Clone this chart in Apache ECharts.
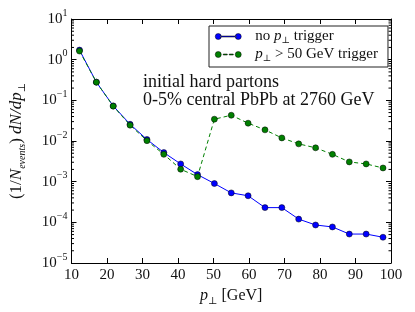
<!DOCTYPE html>
<html><head><meta charset="utf-8">
<script src="https://cdn.jsdelivr.net/npm/echarts@6/dist/echarts.min.js"></script>
<style>html,body{margin:0;padding:0;background:#fff}#c{width:415px;height:312px}</style>
</head><body><div id="c"></div>
<script>
const pt = [12.25,17,21.75,26.5,31.25,36,40.75,45.5,50.25,55,59.75,64.5,69.25,74,78.75,83.5,88.25,93,97.75];
const noTrigger = [1.72,0.28,0.073,0.0258,0.0109,0.0052,0.00273,0.00149,0.0009,0.00053,0.00045,0.00023,0.00023,0.00012,0.000086,0.000077,0.0000515,0.0000515,0.000043];
const trigger50 = [1.63,0.28,0.072,0.0245,0.0102,0.0047,0.00202,0.00133,0.0344,0.043,0.0274,0.0188,0.0119,0.0085,0.0068,0.0047,0.00306,0.00273,0.00217];
const xTickLabels = [10,20,30,40,50,60,70,80,90,100];
const yTickExps = [-5,-4,-3,-2,-1,0,1];
const minorMantissas = [2,3,4,5,6,7,8,9];

const FONT = '"Liberation Serif", "DejaVu Serif", serif';
const minorTicks = [];
yTickExps.slice(0,-1).forEach(e => minorMantissas.forEach(m => minorTicks.push([10, m*Math.pow(10,e)])));

const chart = echarts.init(document.getElementById('c'), null, {renderer:'canvas'});
const axisCommon = {
  axisLine:{show:true, lineStyle:{color:'#000', width:1}},
  axisTick:{show:true, inside:true, length:5, lineStyle:{color:'#000', width:1}},
  splitLine:{show:false}
};
chart.setOption({
  animation:false,
  backgroundColor:'#fff',
  grid:{left:69, right:24, top:19, bottom:49},
  xAxis:[
    Object.assign({type:'value', min:10, max:100, interval:10, position:'bottom',
      axisLabel:{color:'#111', fontFamily:FONT, fontSize:15, margin:5, formatter:v=>String(v)},
      name:'{i|p}{s|⊥}{n| [GeV]}', nameLocation:'middle', nameGap:22,
      nameTextStyle:{fontFamily:FONT, fontSize:16, color:'#111', rich:{
        i:{fontFamily:FONT, fontSize:16, fontStyle:'italic', lineHeight:20},
        s:{fontFamily:FONT, fontSize:10, verticalAlign:'bottom', lineHeight:12},
        n:{fontFamily:FONT, fontSize:16, lineHeight:20}}}
    }, axisCommon),
    Object.assign({type:'value', min:10, max:100, interval:10, position:'top', axisLabel:{show:false}}, axisCommon)
  ],
  yAxis:[
    Object.assign({type:'log', logBase:10, min:1e-5, max:10, splitNumber:6, position:'left',
      axisLabel:{color:'#111', fontFamily:FONT, fontSize:15, margin:4,
        formatter:v=>{const e=Math.round(Math.log10(v)); return '{b|10}{p|'+(e<0?'−'+(-e):e)+'}';},
        rich:{b:{fontFamily:FONT, fontSize:15, lineHeight:22, color:'#111'},
              p:{fontFamily:FONT, fontSize:10, verticalAlign:'top', lineHeight:12, color:'#111'}}},
      name:'{n|(1/}{i|N}{s|events}{n|) }{i|dN/dp}{s|⊥}', nameLocation:'middle', nameGap:44,
      nameTextStyle:{fontFamily:FONT, fontSize:17, color:'#111', rich:{
        n:{fontFamily:FONT, fontSize:17, lineHeight:22},
        i:{fontFamily:FONT, fontSize:17, fontStyle:'italic', lineHeight:22},
        s:{fontFamily:FONT, fontSize:10, fontStyle:'italic', verticalAlign:'bottom', lineHeight:13}}}
    }, axisCommon),
    Object.assign({type:'log', logBase:10, min:1e-5, max:10, splitNumber:6, position:'right', axisLabel:{show:false}}, axisCommon)
  ],
  legend:{
    left:209, top:26, orient:'vertical', itemWidth:26, itemHeight:6, itemGap:2,
    padding:[3,10,4,6], borderColor:'#222', borderWidth:1, backgroundColor:'#fff',
    itemStyle:{borderWidth:0.5, borderColor:'#000'},
    formatter:name=> name==='no'
      ? '{n|no }{i|p}{s|⊥}{n| trigger}'
      : '{i|p}{s|⊥}{n| > 50 GeV trigger}',
    textStyle:{fontFamily:FONT, fontSize:15, color:'#111', padding:[0,0,0,9], rich:{
      n:{fontFamily:FONT, fontSize:15, lineHeight:17, color:'#111'},
      i:{fontFamily:FONT, fontSize:15, fontStyle:'italic', lineHeight:17, color:'#111'},
      s:{fontFamily:FONT, fontSize:9, verticalAlign:'bottom', lineHeight:10, color:'#111'}}},
    data:[
      {name:'no', icon:'path://M0,3a3,3 0 1,0 6,0a3,3 0 1,0 -6,0Z M5,2.5H21V3.5H5Z M20,3a3,3 0 1,0 6,0a3,3 0 1,0 -6,0Z'},
      {name:'trig', icon:'path://M0,3a3,3 0 1,0 6,0a3,3 0 1,0 -6,0Z M8,2.5H12V3.5H8Z M14,2.5H18V3.5H14Z M20,3a3,3 0 1,0 6,0a3,3 0 1,0 -6,0Z'}
    ]
  },
  graphic:[{type:'text', left:143, top:73, z:10,
    style:{text:'initial hard partons\n0-5% central PbPb at 2760 GeV', font:'18px '+FONT, lineHeight:18, fill:'#111'}}],
  series:[
    {type:'custom', silent:true, clip:false, data:minorTicks, z:1,
      renderItem:(params, api)=>{
        const v = api.value(1);
        const pL = api.coord([10, v]); const pR = api.coord([100, v]);
        return {type:'group', children:[
          {type:'line', shape:{x1:pL[0], y1:pL[1], x2:pL[0]+2.5, y2:pL[1]}, style:{stroke:'#000', lineWidth:1}},
          {type:'line', shape:{x1:pR[0]-2.5, y1:pR[1], x2:pR[0], y2:pR[1]}, style:{stroke:'#000', lineWidth:1}}
        ]};
      }},
    {name:'no', type:'line', data:pt.map((x,i)=>[x,noTrigger[i]]), symbol:'circle', symbolSize:6,
      lineStyle:{color:'#0000ff', width:1}, itemStyle:{color:'#0000ff', borderColor:'#000', borderWidth:0.5}, z:3},
    {name:'trig', type:'line', data:pt.map((x,i)=>[x,trigger50[i]]), symbol:'circle', symbolSize:6,
      lineStyle:{color:'#008000', width:1, type:[4,3]}, itemStyle:{color:'#008000', borderColor:'#000', borderWidth:0.5}, z:4}
  ]
});
</script></body></html>
